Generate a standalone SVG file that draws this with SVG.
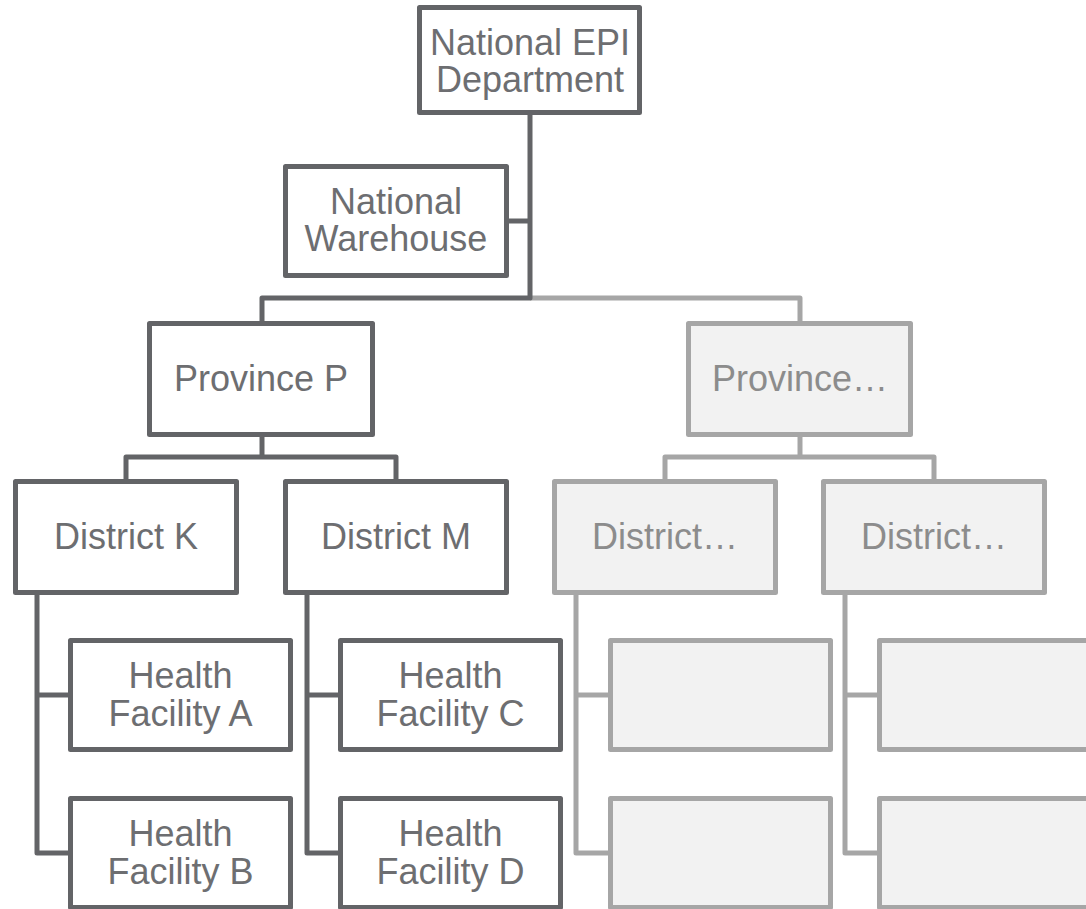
<svg xmlns="http://www.w3.org/2000/svg" width="1086" height="909" viewBox="0 0 1086 909">
<style>
.bg{fill:#ffffff}
.d{fill:#ffffff;stroke:#636467;stroke-width:5;stroke-linejoin:round}
.g{fill:#f2f2f2;stroke:#a6a6a6;stroke-width:5;stroke-linejoin:round}
.cd{fill:none;stroke:#636467;stroke-width:5;stroke-linejoin:round}
.cg{fill:none;stroke:#a6a6a6;stroke-width:5;stroke-linejoin:round}
.t{font-family:"Liberation Sans",Arial,sans-serif;font-size:36px;text-anchor:middle;fill:#6d6e71}
.tg{font-family:"Liberation Sans",Arial,sans-serif;font-size:36px;text-anchor:middle;fill:#8c8c8c}
</style>
<rect class="bg" x="0" y="0" width="1086" height="909"/>
<g id="connectors">
<path class="cg" d="M530,298 H800 V321"/>
<path class="cg" d="M800,437 V457"/>
<path class="cg" d="M665,479 V457 H934 V479"/>
<path class="cg" d="M576,595 V853 H608"/>
<path class="cg" d="M576,695 H608"/>
<path class="cg" d="M845,595 V853 H877"/>
<path class="cg" d="M845,695 H877"/>
<path class="cd" d="M530,115 V298 H262 V321"/>
<path class="cd" d="M509,221 H530"/>
<path class="cd" d="M262,437 V457"/>
<path class="cd" d="M126,479 V457 H396 V479"/>
<path class="cd" d="M37,595 V853 H68"/>
<path class="cd" d="M37,695 H68"/>
<path class="cd" d="M307,595 V853 H338"/>
<path class="cd" d="M307,695 H338"/>
</g>
<g id="epi">
<rect class="d" x="419.5" y="7.5" width="220" height="105"/>
<text class="t" x="530" y="55">National EPI</text>
<text class="t" x="530" y="92">Department</text>
</g>
<g id="warehouse">
<rect class="d" x="285.5" y="166.5" width="221" height="109"/>
<text class="t" x="396" y="214">National</text>
<text class="t" x="396" y="251">Warehouse</text>
</g>
<g id="provinceP">
<rect class="d" x="149.5" y="323.5" width="223" height="111"/>
<text class="t" x="261" y="391">Province P</text>
</g>
<g id="provinceX">
<rect class="g" x="688.5" y="323.5" width="222" height="111"/>
<text class="tg" x="800" y="391">Province…</text>
</g>
<g id="districtK">
<rect class="d" x="15.5" y="481.5" width="221" height="111"/>
<text class="t" x="126" y="549">District K</text>
</g>
<g id="districtM">
<rect class="d" x="285.5" y="481.5" width="221" height="111"/>
<text class="t" x="396" y="549">District M</text>
</g>
<g id="districtX1">
<rect class="g" x="554.5" y="481.5" width="221" height="111"/>
<text class="tg" x="665" y="549">District…</text>
</g>
<g id="districtX2">
<rect class="g" x="823.5" y="481.5" width="221" height="111"/>
<text class="tg" x="934" y="549">District…</text>
</g>
<g id="hfA">
<rect class="d" x="70.5" y="640.5" width="220" height="109"/>
<text class="t" x="180.5" y="688">Health</text>
<text class="t" x="180.5" y="726">Facility A</text>
</g>
<g id="hfB">
<rect class="d" x="70.5" y="798.5" width="220" height="109"/>
<text class="t" x="180.5" y="846">Health</text>
<text class="t" x="180.5" y="884">Facility B</text>
</g>
<g id="hfC">
<rect class="d" x="340.5" y="640.5" width="220" height="109"/>
<text class="t" x="450.5" y="688">Health</text>
<text class="t" x="450.5" y="726">Facility C</text>
</g>
<g id="hfD">
<rect class="d" x="340.5" y="798.5" width="220" height="109"/>
<text class="t" x="450.5" y="846">Health</text>
<text class="t" x="450.5" y="884">Facility D</text>
</g>
<g id="hfX1">
<rect class="g" x="610.5" y="640.5" width="220" height="109"/>
</g>
<g id="hfX2">
<rect class="g" x="610.5" y="798.5" width="220" height="109"/>
</g>
<g id="hfX3">
<rect class="g" x="879.5" y="640.5" width="220" height="109"/>
</g>
<g id="hfX4">
<rect class="g" x="879.5" y="798.5" width="220" height="109"/>
</g>
</svg>
